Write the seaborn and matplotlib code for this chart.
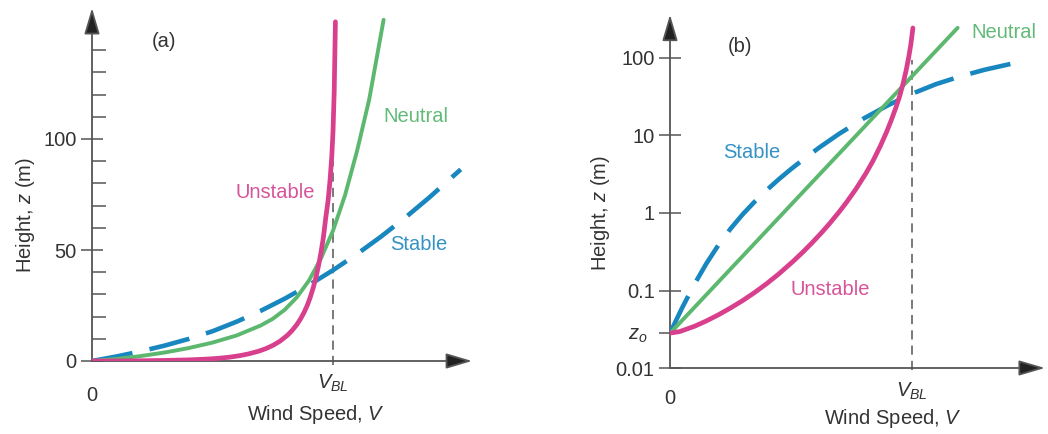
import matplotlib
matplotlib.use("Agg")
import matplotlib.pyplot as plt
import seaborn as sns
from matplotlib.ticker import FixedLocator, FixedFormatter

# ---------------- data ----------------
V_BL = 1.0
z0 = 0.028

# panel (a): linear height axis
a_unstable_speed = [0, 0.1, 0.2, 0.3, 0.4, 0.47, 0.52, 0.57, 0.614, 0.65, 0.69, 0.72,
                    0.752, 0.78, 0.81, 0.83, 0.85, 0.865, 0.88, 0.893, 0.905, 0.918,
                    0.93, 0.94, 0.95, 0.96, 0.97, 0.98, 0.988, 0.995, 1.0, 1.005, 1.01]
a_unstable_height = [0, 0.02, 0.1, 0.25, 0.5, 0.82, 1.17, 1.72, 2.42, 3.21, 4.37, 5.51,
                     7.11, 8.93, 11.5, 13.7, 16.4, 18.9, 21.9, 25.0, 28.5, 33.0,
                     38.0, 43.0, 48.8, 55.6, 64.6, 72.6, 81.8, 92.3, 103.3, 121.3, 152.8]
a_neutral_speed = [0, 0.1, 0.2, 0.3, 0.4, 0.5, 0.6, 0.7, 0.75, 0.8, 0.85, 0.9,
                   0.95, 1.0, 1.05, 1.1, 1.15, 1.21]
a_neutral_height = [0, 0.9, 2.2, 3.8, 5.8, 8.3, 11.5, 16.0, 19.0, 23.1, 28.7, 36.2,
                    46.2, 58.7, 74.7, 94.7, 117.7, 153.7]
a_stable_speed = [0, 0.1, 0.2, 0.3, 0.4, 0.5, 0.6, 0.7, 0.8, 0.9, 1.0, 1.1, 1.2,
                  1.3, 1.4, 1.53]
a_stable_height = [0, 2, 4.3, 6.9, 9.9, 13.4, 17.7, 22.6, 28.1, 34.2, 40.9, 48.2, 56.1,
                   64.6, 73.7, 86.3]

# panel (b): logarithmic height axis
b_unstable_speed = [0, 0.04, 0.1, 0.15, 0.2, 0.25, 0.30, 0.35, 0.40, 0.45, 0.51, 0.55,
                    0.59, 0.63, 0.66, 0.70, 0.73, 0.77, 0.81, 0.84, 0.87, 0.895, 0.915,
                    0.935, 0.95, 0.965, 0.977, 0.988, 0.997, 1.005]
b_unstable_height = [0.0282, 0.0295, 0.0344, 0.0404, 0.0485, 0.0594, 0.0739, 0.0941,
                     0.1226, 0.1635, 0.239, 0.3136, 0.4193, 0.5707, 0.7295, 1.035, 1.369,
                     2.053, 3.225, 4.716, 7.289, 10.9, 15.61, 23.1, 32.06, 47.7, 69.3,
                     103.9, 154, 244]
b_neutral_speed = [0, 0.6, 1.19]
b_neutral_height = [0.028, 2.73, 245]
b_stable_speed = [0, 0.05, 0.1, 0.15, 0.2, 0.25, 0.3, 0.35, 0.4, 0.45, 0.5, 0.56, 0.62,
                  0.7, 0.8, 0.9, 1.0, 1.1, 1.2, 1.3, 1.43]
b_stable_height = [0.0282, 0.0596, 0.1189, 0.2213, 0.3846, 0.6237, 0.955, 1.396, 1.972,
                   2.723, 3.673, 5.152, 7.079, 10.52, 16.48, 24.38, 34.43, 45.92, 57.81,
                   70.31, 86.7]

a_yticks = [0, 50, 100]
a_yticklabels = ["0", "50", "100"]
a_minor_yticks = list(range(10, 150, 10))
b_yticks = [0.01, 0.1, 1, 10, 100]
b_yticklabels = ["0.01", "0.1", "1", "10", "100"]

# label positions (data coords)
a_labels = [("(a)", 0.30, 143.7), ("Neutral", 1.345, 110), ("Unstable", 0.76, 75.7), ("Stable", 1.357, 52.7)]
b_labels = [("(b)", 0.29, 140), ("Neutral", 1.382, 212), ("Stable", 0.339, 6.0), ("Unstable", 0.662, 0.102)]

# ---------------- style ----------------
sns.set_theme(style="white")
plt.rcParams["font.family"] = ["Liberation Sans", "DejaVu Sans"]
plt.rcParams["mathtext.fontset"] = "custom"
plt.rcParams["mathtext.rm"] = "Liberation Sans"
plt.rcParams["mathtext.it"] = "Liberation Sans:italic"
plt.rcParams["mathtext.bf"] = "Liberation Sans:bold"

PINK = "#d83f8c"
GREEN = "#5cb86f"
BLUE = "#1987bf"
TXT = {"Unstable": "#d6559a", "Neutral": "#62ba78", "Stable": "#3592c4"}
AX = "#555555"
TEXT = "#333333"
FS = 14.5

W, H = 1048, 434
fig = plt.figure(figsize=(W / 100, H / 100), dpi=100)


def px_axes(x0, yb, x1, yt):
    return fig.add_axes([x0 / W, 1 - yb / H, (x1 - x0) / W, (yb - yt) / H])


axA = px_axes(92, 361, 92 + 1.6 * 241, 361 - 160 * 2.22)
axB = px_axes(670, 368, 670 + 1.56 * 241.7, 368 - 4.6 * 77.5)
axB.set_yscale("log")

dash_stable = (0, (9, 3.8))
dash_ref = (0, (6, 4))

for ax, (us, uh), (ns, nh), (ss, sh) in [
    (axA, (a_unstable_speed, a_unstable_height), (a_neutral_speed, a_neutral_height),
     (a_stable_speed, a_stable_height)),
    (axB, (b_unstable_speed, b_unstable_height), (b_neutral_speed, b_neutral_height),
     (b_stable_speed, b_stable_height)),
]:
    sns.lineplot(x=ss, y=sh, ax=ax, color=BLUE, linewidth=3.3, linestyle=dash_stable,
                 sort=False, estimator=None, zorder=3)
    sns.lineplot(x=ns, y=nh, ax=ax, color=GREEN, linewidth=2.8, sort=False,
                 estimator=None, zorder=4)
    sns.lineplot(x=us, y=uh, ax=ax, color=PINK, linewidth=3.4, sort=False,
                 estimator=None, zorder=5)

axA.set_xlim(0, 1.6)
axA.set_ylim(0, 160)
axB.set_xlim(0, 1.56)
axB.set_ylim(0.01, 10 ** 2.6)

# reference V_BL lines
axA.plot([V_BL, V_BL], [-2, 90], color=AX, lw=1.1, linestyle=dash_ref, clip_on=False, zorder=2)
axB.plot([V_BL, V_BL], [0.0093, 95], color=AX, lw=1.1, linestyle=dash_ref, clip_on=False, zorder=2)

arrow_kw = dict(arrowstyle="-|>,head_length=1.15,head_width=0.34", mutation_scale=14,
                fc="#222222", ec=AX, lw=1.3, shrinkA=0, shrinkB=0)
axA.annotate("", xy=(1.577, 0), xytext=(0, 0), arrowprops=arrow_kw, annotation_clip=False, zorder=1)
axA.annotate("", xy=(0, 159), xytext=(0, 0), arrowprops=arrow_kw, annotation_clip=False, zorder=1)
axB.annotate("", xy=(1.551, 0.01), xytext=(0, 0.01), arrowprops=arrow_kw, annotation_clip=False, zorder=1)
axB.annotate("", xy=(0, 362), xytext=(0, 0.01), arrowprops=arrow_kw, annotation_clip=False, zorder=1)

for ax in (axA, axB):
    for s in ax.spines.values():
        s.set_visible(False)
    ax.grid(False)
    ax.set_facecolor("none")

# panel (a) ticks
axA.set_yticks(a_yticks)
axA.set_yticklabels(a_yticklabels)
axA.yaxis.set_minor_locator(FixedLocator(a_minor_yticks))
axA.tick_params(axis="y", which="major", left=True, direction="inout", length=16, width=1.1,
                color=AX, pad=3, labelsize=FS, labelcolor=TEXT)
axA.tick_params(axis="y", which="minor", left=True, direction="in", length=10, width=1.1, color=AX)

# panel (b) ticks
axB.yaxis.set_major_locator(FixedLocator(b_yticks))
axB.yaxis.set_major_formatter(FixedFormatter(b_yticklabels))
axB.yaxis.set_minor_locator(FixedLocator([z0]))
axB.yaxis.set_minor_formatter(FixedFormatter([r"$z_o$"]))
axB.tick_params(axis="y", which="major", left=True, direction="inout", length=16, width=1.1,
                color=AX, pad=3, labelsize=FS, labelcolor=TEXT)
axB.tick_params(axis="y", which="minor", left=True, direction="out", length=8, width=1.1,
                color=AX, pad=8, labelsize=FS, labelcolor=TEXT)

for ax, p0, p1 in [(axA, 18, 8.5), (axB, 15, 9)]:
    ax.xaxis.set_major_locator(FixedLocator([V_BL]))
    ax.xaxis.set_major_formatter(FixedFormatter([r"$V_{BL}$"]))
    ax.xaxis.set_minor_locator(FixedLocator([0]))
    ax.xaxis.set_minor_formatter(FixedFormatter(["0"]))
    ax.tick_params(axis="x", which="major", bottom=True, length=0, pad=p1, labelsize=FS, labelcolor=TEXT)
    ax.tick_params(axis="x", which="minor", bottom=True, length=0, pad=p0, labelsize=FS, labelcolor=TEXT)

# axis labels
axA.set_xlabel(r"Wind Speed, $V$", fontsize=FS, color=TEXT)
axA.xaxis.set_label_coords(0.581, -0.118)
axA.set_ylabel(r"Height, $z$ (m)", fontsize=FS, color=TEXT)
axA.yaxis.set_label_coords(-0.143, 0.411)
axB.set_xlabel(r"Wind Speed, $V$", fontsize=FS, color=TEXT)
axB.xaxis.set_label_coords(0.59, -0.109)
axB.set_ylabel(r"Height, $z$ (m)", fontsize=FS, color=TEXT)
axB.yaxis.set_label_coords(-0.155, 0.435)

for ax, labels in [(axA, a_labels), (axB, b_labels)]:
    for s, x, y in labels:
        ax.text(x, y, s, color=TXT.get(s, TEXT), fontsize=FS, ha="center", va="center")

fig.savefig("out.png", dpi=100, facecolor="white")
